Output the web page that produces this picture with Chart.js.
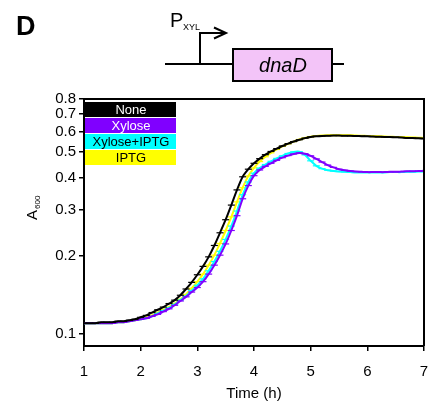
<!DOCTYPE html>
<html>
<head>
<meta charset="utf-8">
<script src="https://cdn.jsdelivr.net/npm/chart.js@4/dist/chart.umd.min.js"></script>
<style>
    html, body { margin: 0; padding: 0; background: #fff; }
    #wrap { width: 438px; height: 403px; position: relative; }
</style>
</head>
<body>
<div id="wrap"><canvas id="growth" width="438" height="403"></canvas></div>
<script>
const FONT = 'Arial, "Liberation Sans", sans-serif';

// time points (h)
const times = [
    1.0, 1.1, 1.2, 1.3, 1.4, 1.5, 1.6, 1.7, 1.8, 1.9,
    2.0, 2.1, 2.2, 2.3, 2.4, 2.5, 2.6, 2.7, 2.8, 2.9,
    3.0, 3.1, 3.2, 3.3, 3.4, 3.5, 3.6, 3.7, 3.8, 3.9,
    4.0, 4.1, 4.2, 4.3, 4.4, 4.5, 4.6, 4.7, 4.8, 4.9,
    5.0, 5.1, 5.2, 5.3, 5.4, 5.5, 5.6, 5.7, 5.8, 5.9,
    6.0, 6.1, 6.2, 6.3, 6.4, 6.5, 6.6, 6.7, 6.8, 6.9,
    7.0,
];

// A600 readings per condition
const noneA600 = [
    0.110, 0.110, 0.110, 0.111, 0.111, 0.111, 0.112, 0.112, 0.113, 0.114,
    0.116, 0.118, 0.121, 0.124, 0.127, 0.131, 0.135, 0.141, 0.149, 0.158,
    0.169, 0.182, 0.198, 0.219, 0.245, 0.275, 0.313, 0.358, 0.402, 0.430,
    0.453, 0.472, 0.489, 0.503, 0.516, 0.528, 0.539, 0.549, 0.558, 0.566,
    0.572, 0.575, 0.577, 0.578, 0.579, 0.579, 0.578, 0.578, 0.577, 0.576,
    0.575, 0.574, 0.573, 0.572, 0.571, 0.570, 0.569, 0.567, 0.566, 0.565,
    0.564,
];
const xyloseA600 = [
    0.110, 0.110, 0.110, 0.110, 0.110, 0.110, 0.111, 0.111, 0.112, 0.113,
    0.114, 0.115, 0.117, 0.119, 0.122, 0.125, 0.129, 0.134, 0.139, 0.145,
    0.151, 0.159, 0.170, 0.184, 0.201, 0.222, 0.250, 0.285, 0.331, 0.372,
    0.406, 0.427, 0.441, 0.453, 0.465, 0.476, 0.485, 0.492, 0.496, 0.493,
    0.484, 0.471, 0.458, 0.446, 0.437, 0.430, 0.426, 0.423, 0.421, 0.420,
    0.419, 0.419, 0.419, 0.419, 0.420, 0.420, 0.421, 0.422, 0.422, 0.423,
    0.424,
];
const xyloseIptgA600 = [
    0.110, 0.110, 0.110, 0.110, 0.110, 0.110, 0.111, 0.111, 0.112, 0.113,
    0.114, 0.115, 0.117, 0.120, 0.123, 0.126, 0.130, 0.135, 0.140, 0.147,
    0.154, 0.163, 0.175, 0.190, 0.208, 0.231, 0.260, 0.297, 0.343, 0.384,
    0.415, 0.434, 0.448, 0.461, 0.473, 0.484, 0.494, 0.501, 0.502, 0.488,
    0.463, 0.443, 0.432, 0.426, 0.423, 0.421, 0.420, 0.419, 0.418, 0.418,
    0.418, 0.418, 0.418, 0.418, 0.419, 0.419, 0.419, 0.420, 0.420, 0.421,
    0.421,
];
const iptgA600 = [
    0.110, 0.110, 0.110, 0.110, 0.110, 0.110, 0.111, 0.111, 0.112, 0.113,
    0.114, 0.116, 0.118, 0.121, 0.124, 0.127, 0.131, 0.136, 0.142, 0.150,
    0.159, 0.170, 0.184, 0.201, 0.223, 0.250, 0.282, 0.322, 0.365, 0.405,
    0.435, 0.460, 0.480, 0.497, 0.512, 0.526, 0.538, 0.549, 0.559, 0.567,
    0.573, 0.577, 0.579, 0.580, 0.581, 0.581, 0.580, 0.580, 0.579, 0.578,
    0.577, 0.576, 0.575, 0.574, 0.573, 0.572, 0.571, 0.570, 0.569, 0.568,
    0.567,
];

const names = ["None", "Xylose", "Xylose+IPTG", "IPTG"];
const colors = ["#000000", "#8000ff", "#00ffff", "#ffff00"];
const legendText = ["#ffffff", "#ffffff", "#000000", "#000000"];
const series = [noneA600, xyloseA600, xyloseIptgA600, iptgA600];

const yTicks = [0.1, 0.2, 0.3, 0.4, 0.5, 0.6, 0.7, 0.8];
const xTicks = [1, 2, 3, 4, 5, 6, 7];

function makeDataset(i) {
    return {
        label: names[i],
        data: times.map((t, k) => ({ x: t, y: series[i][k] })),
        borderColor: colors[i],
        backgroundColor: colors[i],
        borderWidth: 2,
        pointStyle: "line",
        pointRadius: 3.5,
        pointBorderWidth: 1.2,
        pointBorderColor: colors[i],
        tension: 0.25,
    };
}

// schematic, box frame, legend and y title
const extras = {
    id: "extras",
    afterDraw(chart) {
        const c = chart.ctx;
        const a = chart.chartArea;
        c.save();

        // top + right frame
        c.strokeStyle = "#000";
        c.lineWidth = 2;
        c.beginPath();
        c.moveTo(a.left, a.top);
        c.lineTo(a.right, a.top);
        c.lineTo(a.right, a.bottom);
        c.stroke();

        // legend boxes
        c.font = `13px ${FONT}`;
        c.textAlign = "center";
        c.textBaseline = "middle";
        const rowH = 16;
        for (let i = 0; i < names.length; i++) {
            const y0 = a.top + 3 + i * rowH;
            c.fillStyle = colors[i];
            c.fillRect(a.left + 1, y0, 91, rowH - 1);
            c.fillStyle = legendText[i];
            c.fillText(names[i], a.left + 47, y0 + rowH / 2);
        }

        // y title A600
        c.save();
        c.translate(37, 209);
        c.rotate(-Math.PI / 2);
        c.fillStyle = "#000";
        c.textAlign = "left";
        c.textBaseline = "alphabetic";
        c.font = `15px ${FONT}`;
        c.fillText("A", -11, 0);
        c.font = `8px ${FONT}`;
        c.fillText("600", 0, 3);
        c.restore();

        // panel letter
        c.fillStyle = "#000";
        c.textAlign = "left";
        c.textBaseline = "alphabetic";
        c.font = `bold 27px ${FONT}`;
        c.fillText("D", 16, 35);

        // promoter label
        c.font = `20px ${FONT}`;
        c.fillText("P", 170, 27);
        c.font = `9px ${FONT}`;
        c.fillText("XYL", 183, 30);

        // promoter arrow
        c.lineWidth = 2;
        c.beginPath();
        c.moveTo(200, 64);
        c.lineTo(200, 33);
        c.lineTo(225, 33);
        c.stroke();
        c.beginPath();
        c.moveTo(214, 27.5);
        c.lineTo(226, 33);
        c.lineTo(214, 38.5);
        c.stroke();

        // DNA line
        c.beginPath();
        c.moveTo(165, 64);
        c.lineTo(233, 64);
        c.moveTo(332, 64);
        c.lineTo(344, 64);
        c.stroke();

        // gene box
        c.fillStyle = "#f3c4f8";
        c.fillRect(233, 49, 99, 32);
        c.strokeRect(233, 49, 99, 32);
        c.fillStyle = "#000";
        c.textAlign = "center";
        c.textBaseline = "middle";
        c.font = `italic 20px ${FONT}`;
        c.fillText("dnaD", 283, 66);

        c.restore();
    },
};

const axisGrid = {
    display: true,
    drawOnChartArea: false,
    drawTicks: true,
    tickLength: 5,
    color: "#000",
    lineWidth: 1.5,
};

new Chart(document.getElementById("growth"), {
    type: "line",
    data: { datasets: series.map((_, i) => makeDataset(i)) },
    options: {
        responsive: false,
        animation: false,
        events: [],
        layout: { padding: { top: 99, right: 14, left: 1, bottom: 0 } },
        plugins: {
            legend: { display: false },
            tooltip: { enabled: false },
        },
        scales: {
            x: {
                type: "linear",
                min: 1,
                max: 7,
                afterBuildTicks: (s) => { s.ticks = xTicks.map((v) => ({ value: v })); },
                afterFit: (s) => {
                    s.height = 57;
                    s.paddingLeft = 0;
                    s.paddingRight = 0;
                },
                grid: axisGrid,
                border: { display: true, color: "#000", width: 2 },
                ticks: {
                    color: "#000",
                    font: { family: FONT, size: 15 },
                    padding: 12,
                    maxRotation: 0,
                },
                title: {
                    display: true,
                    text: "Time (h)",
                    color: "#000",
                    font: { family: FONT, size: 15 },
                    padding: { top: 0, bottom: 0 },
                },
            },
            y: {
                type: "logarithmic",
                min: 0.09,
                max: 0.8,
                afterBuildTicks: (s) => { s.ticks = yTicks.map((v) => ({ value: v })); },
                afterFit: (s) => { s.width = 83; },
                grid: axisGrid,
                border: { display: true, color: "#000", width: 2 },
                ticks: {
                    color: "#000",
                    font: { family: FONT, size: 15 },
                    padding: 3,
                    callback: (v) => v.toFixed(1),
                },
            },
        },
    },
    plugins: [extras],
});
</script>
</body>
</html>
